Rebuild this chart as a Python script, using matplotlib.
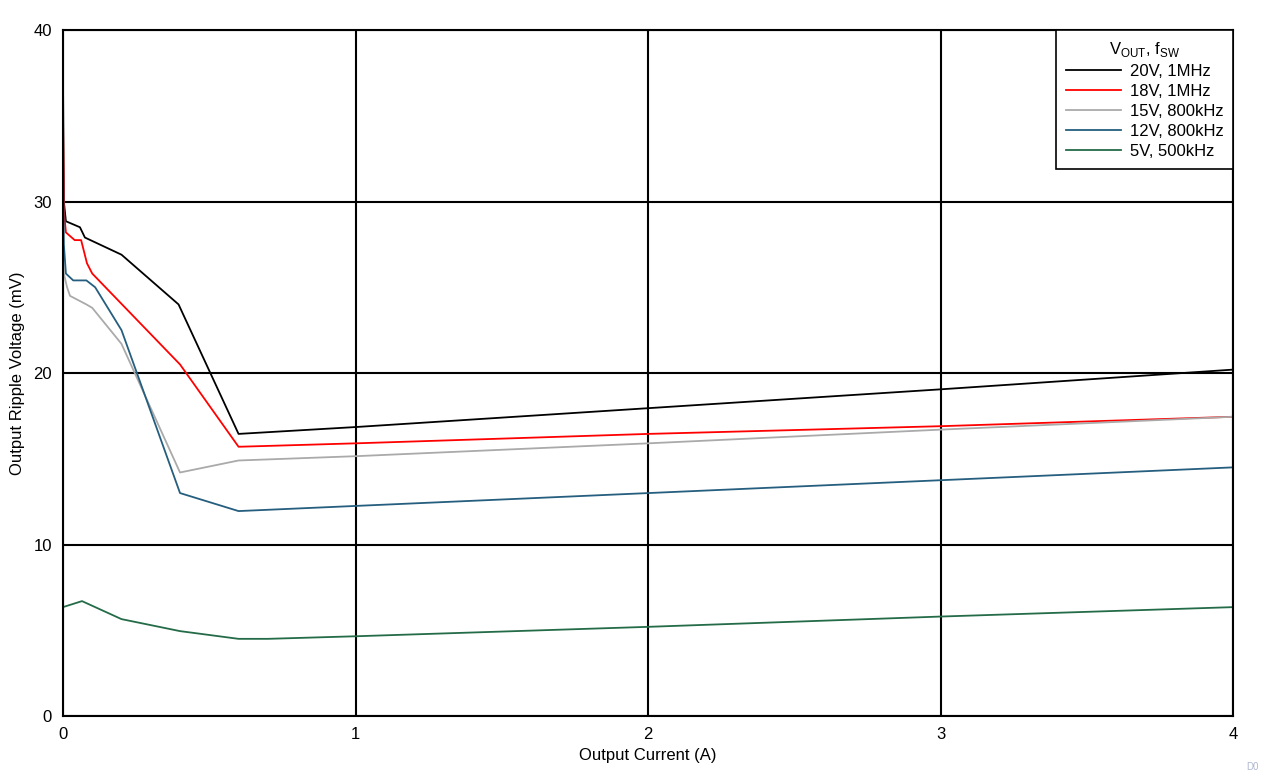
#!/usr/bin/env python3
import matplotlib.pyplot as plt

plt.rcParams["font.family"] = ["Liberation Sans", "DejaVu Sans"]
plt.rcParams["mathtext.fontset"] = "custom"
plt.rcParams["mathtext.rm"] = "Liberation Sans"

# --- DATA ---
x_20v = [0.0, 0.003, 0.01, 0.058, 0.075, 0.2, 0.395, 0.6, 1.0, 2.0, 3.0, 4.0]
y_20v = [37.3, 30.0, 28.85, 28.5, 27.9, 26.9, 24.0, 16.45, 16.85, 17.95, 19.05, 20.2]

x_18v = [0.0, 0.003, 0.01, 0.04, 0.062, 0.082, 0.1, 0.4, 0.6, 1.0, 2.0, 3.0, 4.0]
y_18v = [35.2, 29.5, 28.2, 27.75, 27.75, 26.4, 25.8, 20.5, 15.7, 15.9, 16.45, 16.9, 17.45]

x_15v = [0.0, 0.003, 0.014, 0.024, 0.08, 0.1, 0.2, 0.4, 0.6, 1.0, 2.0, 3.0, 4.0]
y_15v = [27.0, 25.8, 25.0, 24.5, 24.0, 23.8, 21.7, 14.2, 14.9, 15.15, 15.9, 16.7, 17.45]

x_12v = [0.0, 0.003, 0.01, 0.035, 0.08, 0.11, 0.2, 0.4, 0.6, 1.0, 2.0, 3.0, 4.0]
y_12v = [33.0, 27.5, 25.8, 25.4, 25.4, 25.0, 22.5, 13.0, 11.95, 12.25, 13.0, 13.75, 14.5]

x_5v = [0.0, 0.065, 0.2, 0.4, 0.6, 0.7, 1.0, 2.0, 3.0, 4.0]
y_5v = [6.35, 6.7, 5.65, 4.95, 4.5, 4.5, 4.65, 5.2, 5.8, 6.35]

labels = ["20V, 1MHz", "18V, 1MHz", "15V, 800kHz", "12V, 800kHz", "5V, 500kHz"]
colors = ["#000000", "#ff0000", "#aaaaaa", "#255e7e", "#246b48"]

xticks = [0, 1, 2, 3, 4]
yticks = [0, 10, 20, 30, 40]

# --- PLOT ---
fig = plt.figure(figsize=(12.62, 7.76), dpi=100)
ax = fig.add_axes([0.0499, 0.0773, 0.9275, 0.8840])

series = [(x_20v, y_20v), (x_18v, y_18v), (x_15v, y_15v), (x_12v, y_12v), (x_5v, y_5v)]
for (x, y), lab, col in zip(series, labels, colors):
    ax.plot(x, y, color=col, lw=1.3, label=lab)

ax.set_xlim(0, 4)
ax.set_ylim(0, 40)
ax.set_xticks(xticks)
ax.set_yticks(yticks)
ax.tick_params(length=0, labelsize=12)
ax.tick_params(axis="x", pad=8)
ax.tick_params(axis="y", pad=8)
ax.grid(True, color="black", lw=1.5)
ax.set_axisbelow(True)
for s in ax.spines.values():
    s.set_linewidth(1.5)

ax.set_xlabel("Output Current (A)", fontsize=12, labelpad=4)
ax.set_ylabel("Output Ripple Voltage (mV)", fontsize=12, labelpad=6)

leg = ax.legend(
    title=r"V$_{\mathrm{OUT}}$, f$_{\mathrm{SW}}$",
    loc="upper right",
    fontsize=12,
    title_fontsize=12,
    fancybox=False,
    framealpha=1,
    edgecolor="black",
    borderaxespad=0,
    handlelength=3.3,
    handletextpad=0.55,
    labelspacing=0.3,
    borderpad=0.6,
)
leg.get_frame().set_linewidth(1.2)

fig.text(0.997, 0.008, "D0", fontsize=7, color="#b0b8d0", ha="right")

fig.savefig("out.png", dpi=100)
